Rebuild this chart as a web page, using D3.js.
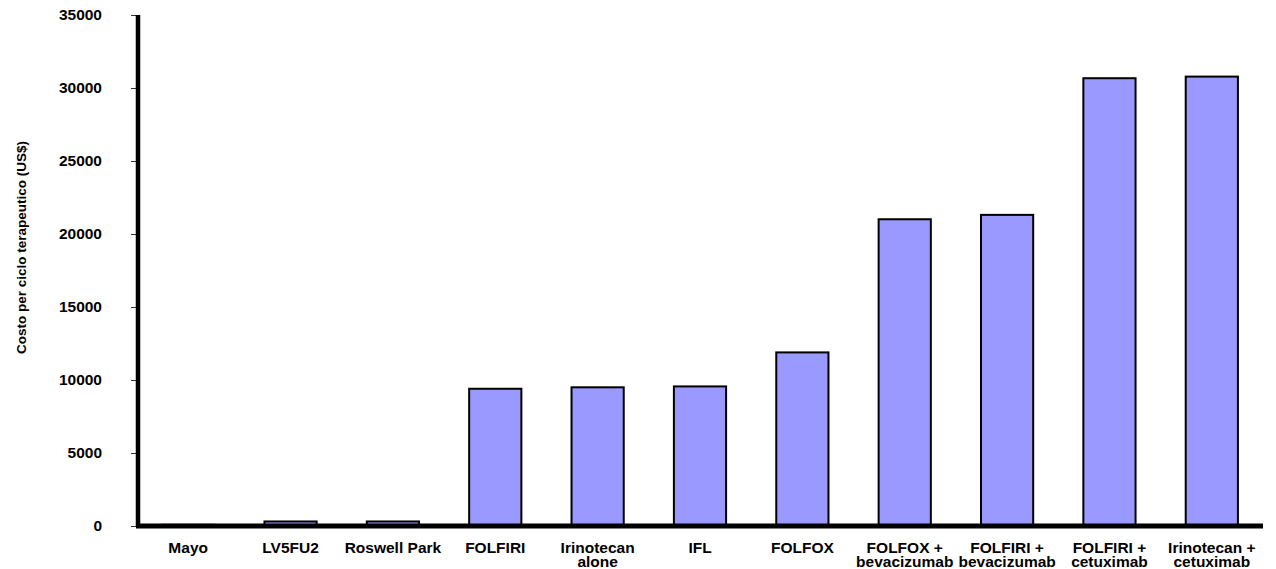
<!DOCTYPE html>
<html>
<head>
<meta charset="utf-8">
<script src="https://cdn.jsdelivr.net/npm/d3@7"></script>
<style>
  html, body { margin: 0; padding: 0; background: #fff; }
  svg { display: block; }
  text { font-family: "Liberation Sans", Arial, sans-serif; font-weight: bold; fill: #000; }
</style>
</head>
<body>
<svg id="chart" width="1276" height="569"></svg>
<script>
const categories = [
  ["Mayo"],
  ["LV5FU2"],
  ["Roswell Park"],
  ["FOLFIRI"],
  ["Irinotecan", "alone"],
  ["IFL"],
  ["FOLFOX"],
  ["FOLFOX +", "bevacizumab"],
  ["FOLFIRI +", "bevacizumab"],
  ["FOLFIRI +", "cetuximab"],
  ["Irinotecan +", "cetuximab"]
];
const costs = [80, 310, 310, 9400, 9500, 9560, 11890, 21010, 21310, 30670, 30780];
const yTicks = [0, 5000, 10000, 15000, 20000, 25000, 30000, 35000];
const yTitle = "Costo per ciclo terapeutico (US$)";

const svg = d3.select("#chart");
const names = categories.map(c => c.join(" "));

const x = d3.scaleBand()
  .domain(names)
  .range([137, 1263])
  .paddingInner(0.49)
  .paddingOuter(0.245);

const y = d3.scaleLinear()
  .domain([0, 35000])
  .range([526, 15]);

// bars
svg.append("g")
  .selectAll("rect")
  .data(costs)
  .join("rect")
  .attr("x", (d, i) => x(names[i]))
  .attr("width", x.bandwidth())
  .attr("y", d => y(d))
  .attr("height", d => y(0) - y(d))
  .attr("fill", "#9999ff")
  .attr("stroke", "#000")
  .attr("stroke-width", 2);

// y axis ticks and labels
const yAxis = svg.append("g")
  .attr("transform", "translate(136,0)")
  .call(d3.axisLeft(y).tickValues(yTicks).tickSize(5).tickPadding(29).tickFormat(d3.format("d")));
yAxis.select(".domain").remove();
yAxis.selectAll(".tick line").attr("stroke", "#333").attr("stroke-width", 1);
yAxis.selectAll(".tick text")
  .style("font-family", "'Liberation Sans', Arial, sans-serif")
  .style("font-weight", "bold")
  .style("font-size", "15.5px")
  .attr("fill", "#000");

// axis lines
svg.append("line")
  .attr("x1", 138).attr("x2", 138)
  .attr("y1", y(35000)).attr("y2", y(0))
  .attr("stroke", "#000").attr("stroke-width", 4.5);
svg.append("line")
  .attr("x1", 136).attr("x2", 1263)
  .attr("y1", y(0)).attr("y2", y(0))
  .attr("stroke", "#000").attr("stroke-width", 5);

// x labels
const xl = svg.append("g")
  .selectAll("text")
  .data(categories)
  .join("text")
  .attr("text-anchor", "middle")
  .style("font-size", "15.5px")
  .attr("transform", (d, i) => `translate(${x(names[i]) + x.bandwidth() / 2},553)`);
xl.selectAll("tspan")
  .data(d => d)
  .join("tspan")
  .attr("x", 0)
  .attr("y", (d, j) => j * 14)
  .text(d => d);

// y title
svg.append("text")
  .attr("transform", "translate(25.5,247.5) rotate(-90)")
  .attr("text-anchor", "middle")
  .style("font-size", "13.5px")
  .text(yTitle);
</script>
</body>
</html>
